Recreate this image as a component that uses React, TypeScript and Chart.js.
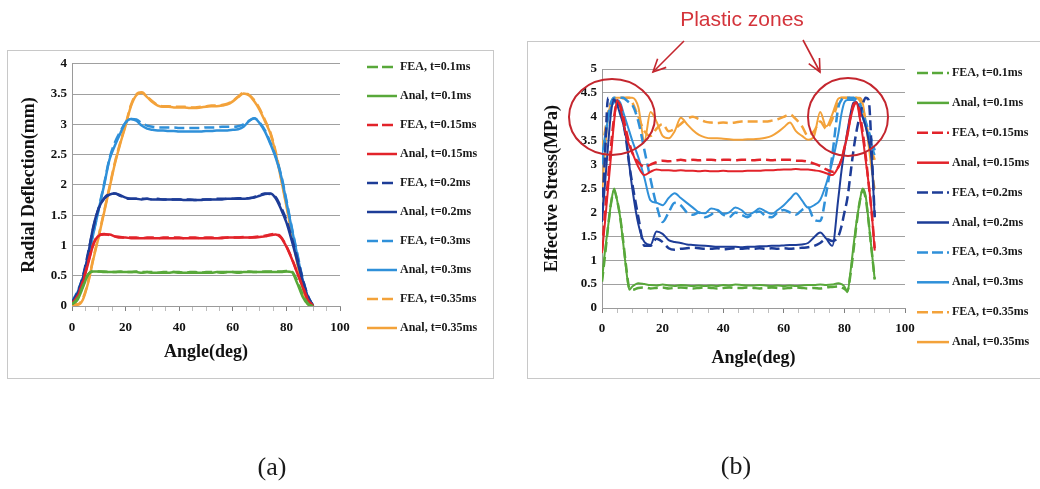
import React, { useEffect, useRef } from "react";
import { Chart, registerables } from "chart.js";

Chart.register(...registerables);
Chart.defaults.font.family = '"Liberation Serif", "Times New Roman", serif';
Chart.defaults.color = "#111";

// ---------- series meta ----------
const seriesLabels = [
  "FEA, t=0.1ms", "Anal, t=0.1ms",
  "FEA, t=0.15ms", "Anal, t=0.15ms",
  "FEA, t=0.2ms", "Anal, t=0.2ms",
  "FEA, t=0.3ms", "Anal, t=0.3ms",
  "FEA, t=0.35ms", "Anal, t=0.35ms",
];
const seriesColors = [
  "#58a83a", "#58a83a",
  "#e2232a", "#e2232a",
  "#1d3c97", "#1d3c97",
  "#2f90d9", "#2f90d9",
  "#f3a23a", "#f3a23a",
];

// ---------- chart (a): radial deflection (mm) ----------
const anglesA = [0, 2, 4, 6, 8, 10, 12, 14, 16, 18, 20, 22, 24, 26, 28, 30, 32, 34, 36, 38, 40, 42, 44, 46, 48, 50, 52, 54, 56, 58, 60, 62, 64, 66, 68, 70, 72, 74, 76, 78, 80, 82, 84, 86, 88, 90];
const yTicksA = { min: 0, max: 4, step: 0.5 };

const feaA_01 = [0.03, 0.12, 0.32, 0.52, 0.58, 0.57, 0.57, 0.56, 0.56, 0.57,
  0.56, 0.56, 0.57, 0.56, 0.56, 0.56, 0.55, 0.56, 0.56, 0.56,
  0.56, 0.55, 0.56, 0.56, 0.55, 0.56, 0.56, 0.56, 0.56, 0.56,
  0.56, 0.56, 0.56, 0.57, 0.56, 0.56, 0.57, 0.57, 0.57, 0.57,
  0.58, 0.57, 0.42, 0.2, 0.04, 0.0];
const anaA_01 = [0.03, 0.1, 0.3, 0.52, 0.57, 0.57, 0.56, 0.56, 0.56, 0.56,
  0.56, 0.56, 0.56, 0.55, 0.56, 0.55, 0.55, 0.55, 0.55, 0.56,
  0.55, 0.55, 0.55, 0.55, 0.55, 0.55, 0.55, 0.56, 0.55, 0.56,
  0.56, 0.55, 0.56, 0.56, 0.56, 0.56, 0.56, 0.56, 0.56, 0.56,
  0.57, 0.56, 0.38, 0.16, 0.03, 0.0];
const feaA_015 = [0.04, 0.16, 0.4, 0.72, 1.03, 1.17, 1.19, 1.17, 1.15, 1.14,
  1.13, 1.13, 1.13, 1.12, 1.13, 1.13, 1.12, 1.13, 1.13, 1.13,
  1.13, 1.12, 1.13, 1.13, 1.12, 1.13, 1.13, 1.12, 1.13, 1.13,
  1.13, 1.13, 1.14, 1.13, 1.14, 1.15, 1.16, 1.18, 1.19, 1.14,
  0.99, 0.79, 0.56, 0.33, 0.11, 0.0];
const anaA_015 = [0.03, 0.15, 0.38, 0.7, 1.02, 1.16, 1.18, 1.18, 1.15, 1.13,
  1.13, 1.12, 1.12, 1.12, 1.12, 1.12, 1.12, 1.12, 1.12, 1.12,
  1.12, 1.12, 1.12, 1.12, 1.12, 1.12, 1.12, 1.12, 1.12, 1.13,
  1.13, 1.13, 1.13, 1.13, 1.13, 1.14, 1.15, 1.17, 1.18, 1.13,
  0.98, 0.78, 0.55, 0.32, 0.1, 0.0];
const feaA_02 = [0.06, 0.22, 0.48, 0.88, 1.3, 1.62, 1.78, 1.85, 1.86, 1.82,
  1.78, 1.77, 1.77, 1.77, 1.77, 1.76, 1.77, 1.76, 1.76, 1.76,
  1.76, 1.76, 1.76, 1.75, 1.76, 1.76, 1.76, 1.77, 1.77, 1.77,
  1.77, 1.78, 1.78, 1.78, 1.8, 1.83, 1.86, 1.85, 1.8, 1.63,
  1.42, 1.12, 0.8, 0.46, 0.17, 0.0];
const anaA_02 = [0.05, 0.2, 0.45, 0.85, 1.32, 1.62, 1.77, 1.84, 1.86, 1.83,
  1.79, 1.77, 1.77, 1.76, 1.77, 1.76, 1.76, 1.76, 1.76, 1.76,
  1.76, 1.75, 1.75, 1.75, 1.75, 1.76, 1.76, 1.76, 1.76, 1.77,
  1.77, 1.77, 1.77, 1.78, 1.79, 1.82, 1.85, 1.86, 1.78, 1.6,
  1.38, 1.08, 0.75, 0.42, 0.15, 0.0];
const feaA_03 = [0.07, 0.24, 0.47, 0.82, 1.22, 1.62, 2.02, 2.44, 2.7, 2.88,
  3.03, 3.09, 3.08, 3.02, 2.98, 2.96, 2.95, 2.95, 2.95, 2.95,
  2.94, 2.94, 2.94, 2.94, 2.94, 2.95, 2.95, 2.95, 2.96, 2.96,
  2.96, 2.97, 3.0, 3.06, 3.1, 3.03, 2.9, 2.7, 2.47, 2.17,
  1.75, 1.3, 0.88, 0.47, 0.16, 0.0];
const anaA_03 = [0.06, 0.22, 0.45, 0.8, 1.2, 1.6, 2.0, 2.42, 2.65, 2.85,
  3.03, 3.09, 3.06, 2.98, 2.93, 2.91, 2.9, 2.9, 2.89, 2.89,
  2.88, 2.88, 2.88, 2.88, 2.88, 2.89, 2.89, 2.9, 2.9, 2.9,
  2.91, 2.92, 2.96, 3.05, 3.1, 3.02, 2.88, 2.68, 2.45, 2.15,
  1.72, 1.28, 0.85, 0.45, 0.15, 0.0];
const feaA_035 = [0.03, 0.03, 0.12, 0.4, 0.8, 1.17, 1.57, 1.97, 2.37, 2.7,
  3.0, 3.32, 3.5, 3.53, 3.46, 3.38, 3.32, 3.3, 3.3, 3.29,
  3.29, 3.29, 3.28, 3.28, 3.29, 3.3, 3.31, 3.31, 3.32, 3.34,
  3.39, 3.46, 3.52, 3.49, 3.4, 3.26, 3.07, 2.87, 2.55, 2.12,
  1.68, 1.22, 0.75, 0.34, 0.04, 0.0];
const anaA_035 = [0.02, 0.02, 0.1, 0.38, 0.78, 1.15, 1.55, 1.95, 2.35, 2.68,
  2.98, 3.3, 3.48, 3.52, 3.45, 3.37, 3.31, 3.29, 3.29, 3.28,
  3.28, 3.28, 3.27, 3.27, 3.28, 3.29, 3.3, 3.3, 3.31, 3.33,
  3.38, 3.45, 3.51, 3.48, 3.38, 3.24, 3.05, 2.85, 2.52, 2.1,
  1.65, 1.2, 0.72, 0.32, 0.03, 0.0];

// ---------- chart (b): effective stress (MPa) ----------
const anglesB = [0, 1, 2, 3, 4, 5, 6, 7, 8, 9, 10,
  12, 14, 16, 18, 20, 22, 24, 26, 28, 30,
  32, 34, 36, 38, 40, 42, 44, 46, 48, 50,
  52, 54, 56, 58, 60, 62, 64, 66, 68, 70,
  72, 74, 76, 78,
  79, 80, 81, 82, 83, 84, 85, 86, 87, 88, 89, 90];
const yTicksB = { min: 0, max: 5, step: 0.5 };

const feaB_01 = [0.55, 1.1, 1.7, 2.2, 2.45, 2.25, 1.9, 1.4, 0.85, 0.42, 0.38,
  0.42, 0.43, 0.41, 0.42, 0.43, 0.41, 0.42, 0.43, 0.42, 0.41,
  0.42, 0.43, 0.42, 0.41, 0.42, 0.43, 0.42, 0.42, 0.43, 0.42,
  0.41, 0.42, 0.43, 0.42, 0.41, 0.42, 0.43, 0.42, 0.41, 0.42,
  0.41, 0.43, 0.44, 0.45,
  0.43, 0.4, 0.36, 0.7, 1.2, 1.75, 2.2, 2.45, 2.3, 1.8, 1.2, 0.6];
const anaB_01 = [0.58, 1.2, 1.7, 2.2, 2.5, 2.25, 1.9, 1.35, 0.8, 0.38, 0.45,
  0.52, 0.5, 0.48, 0.47, 0.49, 0.47, 0.46, 0.48, 0.47, 0.46,
  0.47, 0.46, 0.47, 0.46, 0.48, 0.47, 0.49, 0.48, 0.47, 0.47,
  0.48, 0.47, 0.46, 0.47, 0.46, 0.47, 0.46, 0.47, 0.48, 0.48,
  0.49, 0.48, 0.49, 0.52,
  0.5, 0.45, 0.33, 0.75, 1.3, 1.8, 2.2, 2.5, 2.35, 1.8, 1.2, 0.6];
const feaB_015 = [1.2, 2.0, 2.7, 3.4, 4.0, 4.3, 4.25, 4.0, 3.7, 3.45, 3.25,
  3.05, 2.95, 3.0, 3.05, 3.08, 3.07, 3.08, 3.1, 3.08, 3.1,
  3.09, 3.1, 3.1, 3.09, 3.1, 3.1, 3.09, 3.1, 3.1, 3.09,
  3.1, 3.1, 3.09, 3.1, 3.1, 3.1, 3.08, 3.08, 3.06, 3.02,
  2.97, 2.9, 2.85, 2.95,
  3.1, 3.35, 3.65, 4.0, 4.25, 4.3, 4.1, 3.7, 3.2, 2.6, 2.0, 1.25];
const anaB_015 = [1.15, 1.8, 2.5, 3.2, 3.9, 4.35, 4.2, 3.9, 3.6, 3.4, 3.25,
  2.95, 2.78, 2.85, 2.9, 2.88, 2.88, 2.87, 2.88, 2.87, 2.87,
  2.86, 2.87, 2.86, 2.86, 2.87, 2.86, 2.86, 2.86, 2.87, 2.87,
  2.87, 2.88, 2.88, 2.89, 2.9, 2.9, 2.91, 2.9, 2.9, 2.88,
  2.86, 2.82, 2.78, 2.95,
  3.1, 3.35, 3.6, 3.95, 4.2, 4.3, 4.0, 3.6, 3.1, 2.6, 2.0, 1.2];
const feaB_02 = [2.0, 3.2, 4.4, 4.4, 4.35, 4.3, 4.15, 3.9, 3.5, 3.0, 2.6,
  1.9, 1.3, 1.3, 1.45, 1.38, 1.25, 1.22, 1.24, 1.25, 1.26,
  1.25, 1.24, 1.24, 1.25, 1.23, 1.24, 1.25, 1.24, 1.25, 1.24,
  1.25, 1.24, 1.25, 1.24, 1.25, 1.24, 1.25, 1.26, 1.27, 1.3,
  1.36, 1.45, 1.4, 1.5,
  1.7, 2.0, 2.3, 2.8, 3.3, 3.7, 4.0, 4.25, 4.4, 4.35, 3.3, 1.9];
const anaB_02 = [1.8, 2.6, 3.4, 4.1, 4.35, 4.25, 4.05, 3.85, 3.55, 3.0, 2.5,
  1.75, 1.38, 1.32, 1.6, 1.55, 1.42, 1.38, 1.36, 1.33, 1.32,
  1.31, 1.3, 1.29, 1.28, 1.28, 1.28, 1.28, 1.27, 1.28, 1.28,
  1.29, 1.29, 1.3, 1.3, 1.31, 1.32, 1.32, 1.33, 1.36, 1.48,
  1.58, 1.45, 1.3, 2.3,
  2.85, 3.3, 3.7, 4.05, 4.3, 4.3, 4.15, 4.0, 3.8, 3.5, 3.1, 1.9];
const feaB_03 = [3.0, 3.5, 4.0, 4.3, 4.4, 4.4, 4.4, 4.4, 4.35, 4.3, 4.25,
  3.9, 3.3, 2.7, 2.15, 1.8, 2.0, 2.2, 2.15, 2.0, 1.95,
  2.0, 1.9, 1.95, 2.05, 1.95, 1.9, 2.0, 1.95, 1.9, 1.98,
  2.02, 1.92, 1.9, 2.0, 2.05, 2.0, 1.95, 2.05, 2.1, 1.85,
  1.82, 2.4, 3.2, 4.2,
  4.35, 4.4, 4.4, 4.4, 4.4, 4.35, 4.3, 4.1, 3.9, 3.7, 3.5, 3.3];
const anaB_03 = [3.2, 3.6, 3.95, 4.2, 4.3, 4.35, 4.3, 4.1, 3.9, 3.7, 3.5,
  3.15, 2.72, 2.25, 2.2, 2.15, 2.3, 2.4, 2.3, 2.2, 2.1,
  2.0, 1.98, 2.08, 2.05, 1.97, 2.0, 2.1, 2.05, 1.95, 2.0,
  2.08, 2.02, 1.97, 2.05, 2.15, 2.28, 2.4, 2.25, 2.1, 2.15,
  2.26, 2.6, 3.05, 3.65,
  4.05, 4.3, 4.35, 4.35, 4.35, 4.3, 4.2, 4.0, 3.8, 3.6, 3.4, 3.2];
const feaB_035 = [3.3, 3.7, 4.1, 4.3, 4.35, 4.4, 4.4, 4.4, 4.4, 4.4, 4.3,
  4.0, 3.7, 3.6, 3.75, 3.85, 3.7, 3.75, 3.85, 3.95, 4.0,
  3.95, 3.9, 3.88, 3.87, 3.88, 3.87, 3.88, 3.9, 3.9, 3.9,
  3.9, 3.9, 3.92, 3.95, 4.0, 4.05, 3.95, 3.8, 3.6, 3.7,
  3.9, 3.75, 3.95, 4.3,
  4.4, 4.4, 4.4, 4.4, 4.4, 4.4, 4.35, 4.2, 3.9, 3.6, 3.3, 3.1];
const anaB_035 = [2.4, 3.3, 4.0, 4.3, 4.4, 4.4, 4.4, 4.38, 4.4, 4.4, 4.4,
  4.2, 3.5, 4.1, 3.9, 3.6, 3.55, 3.7, 3.98, 3.85, 3.72,
  3.62, 3.57, 3.55, 3.55, 3.54, 3.53, 3.52, 3.52, 3.53, 3.53,
  3.54, 3.56, 3.6, 3.68, 3.78, 3.88, 3.7, 3.6, 3.52, 3.6,
  4.1, 3.8, 4.05, 4.38,
  4.4, 4.4, 4.4, 4.38, 4.4, 4.4, 4.4, 4.3, 3.9, 3.4, 2.9, 2.5];

const seriesA = [feaA_01, anaA_01, feaA_015, anaA_015, feaA_02, anaA_02, feaA_03, anaA_03, feaA_035, anaA_035];
const seriesB = [feaB_01, anaB_01, feaB_015, anaB_015, feaB_02, anaB_02, feaB_03, anaB_03, feaB_035, anaB_035];

// ---------- helpers ----------
function makeDatasets(angles: number[], series: number[][], wSolid: number, wDash: number) {
  return series.map((vals, i) => ({
    label: seriesLabels[i],
    data: angles.map((a, k) => ({ x: a, y: vals[k] })),
    borderColor: seriesColors[i],
    backgroundColor: seriesColors[i],
    borderWidth: i % 2 === 0 ? wDash : wSolid,
    borderDash: i % 2 === 0 ? [10, 5] : [],
    pointRadius: 0,
    cubicInterpolationMode: "monotone" as const,
    fill: false,
  }));
}

function legendPlugin(x0: number, y0: number, dy: number, len: number, gap: number, lw: number) {
  return {
    id: "sideLegend",
    afterDraw(chart: any) {
      const ctx = chart.ctx;
      ctx.save();
      chart.data.datasets.forEach((ds: any, i: number) => {
        const y = y0 + i * dy;
        ctx.strokeStyle = ds.borderColor;
        ctx.lineWidth = lw;
        ctx.setLineDash(ds.borderDash && ds.borderDash.length ? [11, 4] : []);
        ctx.beginPath();
        ctx.moveTo(x0, y);
        ctx.lineTo(x0 + len, y);
        ctx.stroke();
        ctx.setLineDash([]);
        ctx.fillStyle = "#1a1a1a";
        ctx.font = 'bold 12px "Liberation Serif", serif';
        ctx.textBaseline = "middle";
        ctx.textAlign = "left";
        ctx.fillText(ds.label, x0 + len + gap, y);
      });
      ctx.restore();
    },
  };
}

type Opts = {
  angles: number[];
  series: number[][];
  yt: { min: number; max: number; step: number };
  yTitle: string;
  yWidth: number;
  xHeight: number;
  pad: { top: number; right: number };
  yTitlePad: number;
  xTitlePad: number;
  xTickPad: number;
  legend: [number, number, number, number, number, number];
  wSolid: number;
  wDash: number;
};

function buildConfig(o: Opts): any {
  return {
    type: "line",
    data: { datasets: makeDatasets(o.angles, o.series, o.wSolid, o.wDash) },
    options: {
      responsive: false,
      animation: false,
      events: [],
      layout: { padding: { top: o.pad.top, right: o.pad.right, left: 0, bottom: 0 } },
      plugins: { legend: { display: false }, tooltip: { enabled: false } },
      scales: {
        x: {
          type: "linear",
          min: 0,
          max: 100,
          afterFit: (s: any) => { s.height = o.xHeight; },
          ticks: {
            stepSize: 5,
            autoSkip: false,
            maxRotation: 0,
            padding: o.xTickPad,
            color: "#111",
            font: { size: 13, weight: "bold" },
            callback: (v: any) => (Math.round(v) % 20 === 0 ? String(Math.round(v)) : ""),
          },
          grid: {
            drawOnChartArea: false,
            drawTicks: true,
            tickLength: 5,
            color: "#9a9a9a",
            tickColor: (c: any) => (c.tick && Math.round(c.tick.value) % 20 === 0 ? "#808080" : "#bdbdbd"),
          },
          border: { display: true, color: "#9a9a9a", width: 1 },
          title: {
            display: true,
            text: "Angle(deg)",
            color: "#111",
            font: { size: 18, weight: "bold" },
            padding: { top: 0, bottom: o.xTitlePad },
          },
        },
        y: {
          min: o.yt.min,
          max: o.yt.max,
          afterFit: (s: any) => { s.width = o.yWidth; },
          ticks: {
            stepSize: o.yt.step,
            padding: 5,
            color: "#111",
            font: { size: 13, weight: "bold" },
            callback: (v: any) => String(Math.round(Number(v) * 10) / 10),
          },
          grid: { color: "#a0a0a0", drawTicks: false, lineWidth: 1 },
          border: { display: true, color: "#9a9a9a", width: 1 },
          title: {
            display: true,
            text: o.yTitle,
            color: "#111",
            font: { size: 18, weight: "bold" },
            padding: { top: o.yTitlePad, bottom: 0 },
          },
        },
      },
    },
    plugins: [legendPlugin(...o.legend)],
  };
}

const optsA: Opts = {
  angles: anglesA,
  series: seriesA,
  yt: yTicksA,
  yTitle: "Radial Deflection(mm)",
  yWidth: 64,
  xHeight: 71,
  pad: { top: 12, right: 152 },
  yTitlePad: 11,
  xTitlePad: 14,
  xTickPad: 9,
  legend: [359, 16, 29, 30, 3, 2.5],
  wSolid: 2.5,
  wDash: 2.5,
};

const optsB: Opts = {
  angles: anglesB,
  series: seriesB,
  yt: yTicksB,
  yTitle: "Effective Stress(MPa)",
  yWidth: 74,
  xHeight: 69,
  pad: { top: 27, right: 143 },
  yTitlePad: 14,
  xTitlePad: 8,
  xTickPad: 8,
  legend: [389, 31, 29.9, 32, 3, 2.5],
  wSolid: 2,
  wDash: 2.5,
};

function ChartCanvas(props: { left: number; top: number; width: number; height: number; opts: Opts }) {
  const ref = useRef<HTMLCanvasElement | null>(null);
  useEffect(() => {
    const chart = new Chart(ref.current as HTMLCanvasElement, buildConfig(props.opts));
    return () => chart.destroy();
  }, []);
  return (
    <canvas
      ref={ref}
      width={props.width}
      height={props.height}
      style={{ position: "absolute", left: props.left, top: props.top, width: props.width, height: props.height }}
    />
  );
}

function arrowHead(x1: number, y1: number, x2: number, y2: number, len: number) {
  const a = Math.atan2(y2 - y1, x2 - x1);
  const s = Math.PI / 7;
  const p1 = [x2 - len * Math.cos(a - s), y2 - len * Math.sin(a - s)];
  const p2 = [x2 - len * Math.cos(a + s), y2 - len * Math.sin(a + s)];
  return `M${p1[0]},${p1[1]} L${x2},${y2} L${p2[0]},${p2[1]}`;
}

export default function App() {
  const red = "#c4262e";
  return (
    <div style={{ position: "absolute", left: 0, top: 0, width: 1040, height: 489, background: "#fff", overflow: "hidden" }}>
      <div style={{ position: "absolute", left: 7, top: 50, width: 487, height: 329, border: "1px solid #c8c8c8", boxSizing: "border-box" }} />
      <div style={{ position: "absolute", left: 527, top: 41, width: 540, height: 338, border: "1px solid #c8c8c8", boxSizing: "border-box" }} />
      <ChartCanvas left={8} top={51} width={484} height={326} opts={optsA} />
      <ChartCanvas left={528} top={42} width={520} height={335} opts={optsB} />
      <svg width={1040} height={489} style={{ position: "absolute", left: 0, top: 0, pointerEvents: "none" }}>
        <ellipse cx={612} cy={117} rx={43} ry={38} fill="none" stroke={red} strokeWidth={2} />
        <ellipse cx={848} cy={117} rx={40} ry={39} fill="none" stroke={red} strokeWidth={2} />
        <line x1={684} y1={41} x2={653} y2={72} stroke={red} strokeWidth={1.6} />
        <path d={arrowHead(684, 41, 653, 72, 14)} fill="none" stroke={red} strokeWidth={1.6} />
        <line x1={803} y1={40} x2={820} y2={72} stroke={red} strokeWidth={1.6} />
        <path d={arrowHead(803, 40, 820, 72, 14)} fill="none" stroke={red} strokeWidth={1.6} />
      </svg>
      <div style={{ position: "absolute", left: 742, top: 7, transform: "translateX(-50%)", whiteSpace: "nowrap", font: '21px "Liberation Sans", Arial, sans-serif', lineHeight: "24px", color: "#d4343b" }}>
        Plastic zones
      </div>
      <div style={{ position: "absolute", left: 272, top: 452, transform: "translateX(-50%)", font: '26px "Liberation Serif", serif', lineHeight: "30px", color: "#1a1a1a" }}>
        (a)
      </div>
      <div style={{ position: "absolute", left: 736, top: 451, transform: "translateX(-50%)", font: '26px "Liberation Serif", serif', lineHeight: "30px", color: "#1a1a1a" }}>
        (b)
      </div>
    </div>
  );
}
